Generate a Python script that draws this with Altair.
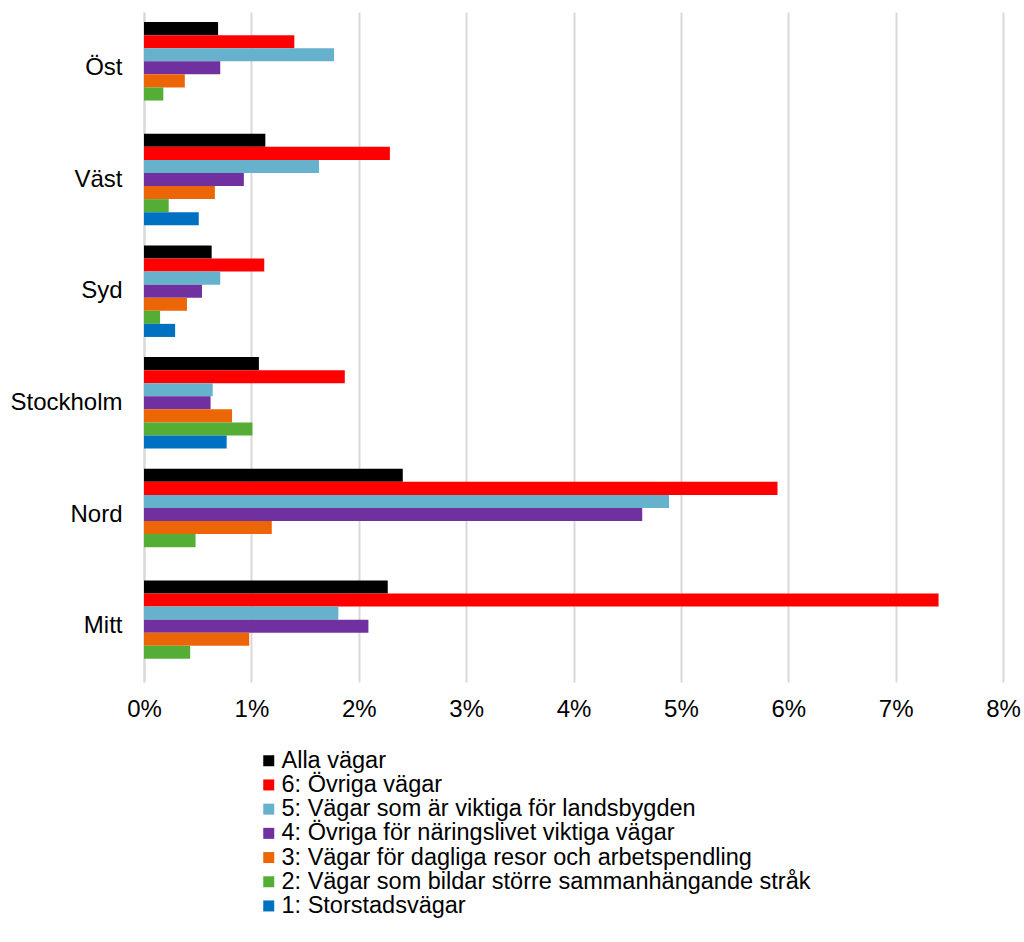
import altair as alt
import pandas as pd

regions = ["Öst", "Väst", "Syd", "Stockholm", "Nord", "Mitt"]
series = [
    "Alla vägar",
    "6: Övriga vägar",
    "5: Vägar som är viktiga för landsbygden",
    "4: Övriga för näringslivet viktiga vägar",
    "3: Vägar för dagliga resor och arbetspendling",
    "2: Vägar som bildar större sammanhängande stråk",
    "1: Storstadsvägar",
]
colors = ["#000000", "#FF0000", "#66B2CC", "#7030A0", "#EC6608", "#54AE36", "#0070C0"]

# values in percent, per series, ordered as regions
alla = [0.69, 1.13, 0.63, 1.07, 2.41, 2.27]
s6 = [1.40, 2.29, 1.12, 1.87, 5.90, 7.40]
s5 = [1.77, 1.63, 0.71, 0.64, 4.89, 1.81]
s4 = [0.71, 0.93, 0.54, 0.62, 4.64, 2.09]
s3 = [0.38, 0.66, 0.40, 0.82, 1.19, 0.98]
s2 = [0.18, 0.23, 0.15, 1.01, 0.48, 0.43]
s1 = [None, 0.51, 0.29, 0.77, None, None]

ticks = [0, 1, 2, 3, 4, 5, 6, 7, 8]

rows = []
for name, vals in zip(series, [alla, s6, s5, s4, s3, s2, s1]):
    for r, v in zip(regions, vals):
        if v is not None:
            rows.append({"region": r, "serie": name, "value": v / 100})
df = pd.DataFrame(rows)

FONT = "Liberation Sans"
FS = 24

chart = alt.Chart(df).mark_bar(strokeWidth=0).encode(
    y=alt.Y("region:N", sort=regions,
            scale=alt.Scale(paddingInner=0.18, paddingOuter=0.09),
            axis=alt.Axis(title=None, labelFontSize=FS, labelFont=FONT, labelColor="#000000",
                          ticks=False, domain=True, domainColor="#D9D9D9", domainWidth=2,
                          labelPadding=22)),
    yOffset=alt.YOffset("serie:N", sort=series, scale=alt.Scale(domain=series)),
    x=alt.X("value:Q",
            scale=alt.Scale(domain=[0, 0.08], nice=False),
            axis=alt.Axis(title=None, format=".0%", values=[t / 100 for t in ticks],
                          labelFontSize=FS, labelFont=FONT, labelColor="#000000",
                          ticks=False, domain=False, grid=True, gridColor="#D9D9D9", gridWidth=2,
                          labelPadding=15, labelFlush=False, labelOverlap=False)),
    color=alt.Color("serie:N", sort=series,
                    scale=alt.Scale(domain=series, range=colors),
                    legend=alt.Legend(title=None, orient="none", legendX=113, legendY=737,
                                      symbolType="square", symbolSize=121, symbolStrokeWidth=0,
                                      labelFontSize=23.5, labelFont=FONT, labelColor="#000000",
                                      rowPadding=-0.8, padding=0, labelLimit=800, labelOffset=1,
                                      direction="vertical")),
).properties(
    width=859, height=670,
    autosize=alt.AutoSizeParams(type="none"),
    padding={"left": 144, "top": 12, "right": 21, "bottom": 260},
).configure_view(stroke=None)

chart.save("out.html", embed_options={"renderer": "svg", "actions": False})
